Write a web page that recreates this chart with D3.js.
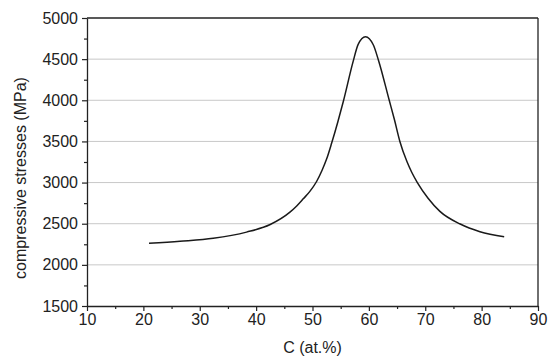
<!DOCTYPE html>
<html>
<head>
  <meta charset="utf-8">
  <script src="https://d3js.org/d3.v7.min.js"></script>
  <style>
    body { margin: 0; background: #fff; }
    text { font-family: "Liberation Sans", Arial, sans-serif; fill: #222; }
  </style>
</head>
<body>
<script>
// values
var carbon = [21, 26.5, 32.4, 38.3, 42.5, 46.0, 47.2, 48.4, 49.5, 50.7, 51.7, 52.5, 53.4, 54.5, 55.5, 57.2, 58.1, 59.4, 60.8, 61.7, 63.6, 64.55, 65.5, 66.75, 67.6, 68.6, 70.5, 72.6, 76.2, 79.7, 84];
var stress = [2262, 2287, 2322, 2398, 2490, 2640, 2715, 2805, 2890, 3010, 3150, 3285, 3480, 3740, 3995, 4470, 4680, 4773, 4672, 4487, 4003, 3760, 3500, 3255, 3125, 3000, 2810, 2650, 2496, 2403, 2342];
var xTicks = [10, 20, 30, 40, 50, 60, 70, 80, 90];
var yTicks = [1500, 2000, 2500, 3000, 3500, 4000, 4500, 5000];

var W = 550, H = 363;
var pL = 87, pR = 538, pT = 18, pB = 306;

var svg = d3.select("body").append("svg")
  .attr("width", W).attr("height", H);

var x = d3.scaleLinear().domain([10, 90]).range([pL, pR]);
var y = d3.scaleLinear().domain([1500, 5000]).range([pB, pT]);

// grid
svg.append("g").selectAll("line")
  .data(yTicks.slice(1, -1))
  .enter().append("line")
  .attr("x1", pL).attr("x2", pR)
  .attr("y1", function(d) { return y(d); })
  .attr("y2", function(d) { return y(d); })
  .attr("stroke", "#c8c8c8").attr("stroke-width", 1);

// minor ticks
var xMinor = d3.range(15, 90, 10);
var yMinor = d3.range(1750, 5000, 500);

svg.append("g")
  .attr("transform", "translate(0," + pB + ")")
  .call(d3.axisBottom(x).tickValues(xMinor).tickSize(3).tickFormat(""))
  .call(function(g) { g.select(".domain").remove(); });

svg.append("g")
  .attr("transform", "translate(" + pL + ",0)")
  .call(d3.axisLeft(y).tickValues(yMinor).tickSize(3).tickFormat(""))
  .call(function(g) { g.select(".domain").remove(); });

// major axes
svg.append("g")
  .attr("transform", "translate(0," + pB + ")")
  .call(d3.axisBottom(x).tickValues(xTicks).tickSize(5).tickSizeOuter(0)
    .tickPadding(3).tickFormat(d3.format("d")));

svg.append("g")
  .attr("transform", "translate(" + pL + ",0)")
  .call(d3.axisLeft(y).tickValues(yTicks).tickSize(5).tickSizeOuter(0)
    .tickPadding(4).tickFormat(d3.format("d")));

svg.selectAll(".tick line").attr("stroke", "#222").attr("stroke-width", 1.2);
svg.selectAll(".domain").attr("stroke", "#222").attr("stroke-width", 1.3);
svg.selectAll(".tick text")
  .attr("font-size", 16)
  .attr("font-family", "'Liberation Sans', Arial, sans-serif")
  .attr("fill", "#222");

// top and right frame
svg.append("line")
  .attr("x1", pL).attr("x2", pR).attr("y1", pT).attr("y2", pT)
  .attr("stroke", "#222").attr("stroke-width", 1.3);
svg.append("line")
  .attr("x1", pR).attr("x2", pR).attr("y1", pT).attr("y2", pB)
  .attr("stroke", "#222").attr("stroke-width", 1.3);

// curve
var pts = carbon.map(function(c, i) { return [c, stress[i]]; });
var line = d3.line()
  .x(function(d) { return x(d[0]); })
  .y(function(d) { return y(d[1]); })
  .curve(d3.curveMonotoneX);

svg.append("path")
  .datum(pts)
  .attr("d", line)
  .attr("fill", "none")
  .attr("stroke", "#1a1a1a")
  .attr("stroke-width", 1.5);

// axis titles
svg.append("text")
  .attr("x", (pL + pR) / 2)
  .attr("y", 353)
  .attr("text-anchor", "middle")
  .attr("font-size", 16)
  .text("C (at.%)");

svg.append("text")
  .attr("transform", "translate(26,178) rotate(-90)")
  .attr("text-anchor", "middle")
  .attr("font-size", 16)
  .text("compressive stresses (MPa)");
</script>
</body>
</html>
